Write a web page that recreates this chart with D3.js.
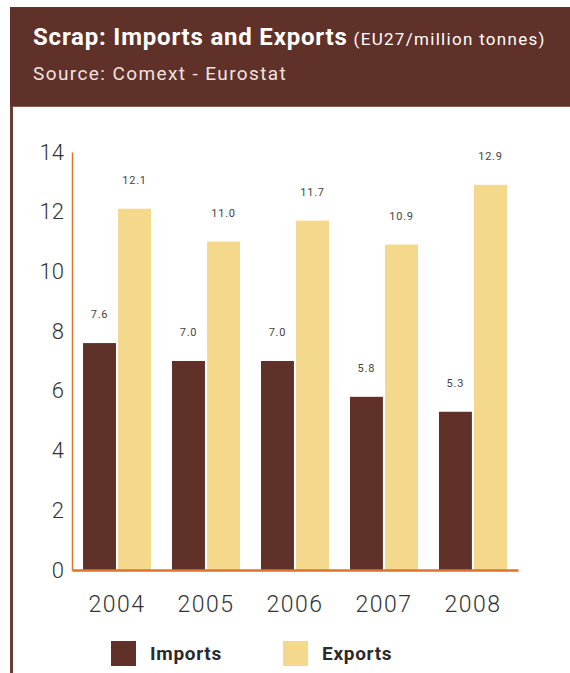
<!DOCTYPE html>
<html>
<head>
<meta charset="utf-8">
<script src="https://cdn.jsdelivr.net/npm/d3@7"></script>
<style>
  body { margin: 0; background: #fff; }
  svg { display: block; }
</style>
</head>
<body>
<div id="chart"></div>
<script>
// data
const years = ['2004', '2005', '2006', '2007', '2008'];
const imports = [7.6, 7.0, 7.0, 5.8, 5.3];
const exports = [12.1, 11.0, 11.7, 10.9, 12.9];
const seriesNames = ['Imports', 'Exports'];
const yTicks = [0, 2, 4, 6, 8, 10, 12, 14];

const colors = { Imports: '#5f3129', Exports: '#f4d88b' };
const brown = '#5f3129';
const orange = '#e0732a';

const width = 570;
const height = 673;

const svg = d3.select('#chart')
  .append('svg')
  .attr('width', width)
  .attr('height', height);

// header box
svg.append('rect')
  .attr('x', 10).attr('y', 7)
  .attr('width', width - 10).attr('height', 100)
  .attr('fill', brown);
svg.append('line')
  .attr('x1', 10).attr('x2', width)
  .attr('y1', 106.5).attr('y2', 106.5)
  .attr('stroke', '#8a5d54').attr('stroke-width', 1);

// left border line
svg.append('rect')
  .attr('x', 10).attr('y', 106)
  .attr('width', 3).attr('height', height - 106)
  .attr('fill', '#6a3c33');

const title = svg.append('text')
  .attr('x', 33).attr('y', 45)
  .attr('fill', '#fff')
  .style('font-family', 'Roboto, sans-serif');
title.append('tspan')
  .style('font-weight', 700)
  .style('font-size', '24px')
  .style('letter-spacing', '0.8px')
  .text('Scrap: Imports and Exports');
title.append('tspan')
  .style('font-size', '17px')
  .style('font-weight', 400)
  .style('letter-spacing', '1.3px')
  .attr('dx', 6)
  .text('(EU27/million tonnes)');

svg.append('text')
  .attr('x', 33).attr('y', 80)
  .attr('fill', '#efe4e0')
  .style('font-family', 'Roboto, sans-serif')
  .style('font-size', '19px')
  .style('font-weight', 400)
  .style('letter-spacing', '1.4px')
  .text('Source: Comext - Eurostat');

// scales
const x0 = d3.scaleBand()
  .domain(years)
  .range([72, 518])
  .paddingInner(0.236)
  .paddingOuter(0.124);

const x1 = d3.scaleBand()
  .domain(seriesNames)
  .range([0, x0.bandwidth()])
  .paddingInner(0.06);

const y = d3.scaleLinear()
  .domain([0, 14])
  .range([570, 152]);

const data = years.map((yr, i) => ({ year: yr, Imports: imports[i], Exports: exports[i] }));

// bars
const groups = svg.append('g')
  .selectAll('g')
  .data(data)
  .enter()
  .append('g')
  .attr('transform', (d) => `translate(${x0(d.year)},0)`);

groups.selectAll('rect')
  .data((d) => seriesNames.map((k) => ({ key: k, value: d[k] })))
  .enter()
  .append('rect')
  .attr('x', (d) => x1(d.key))
  .attr('y', (d) => y(d.value))
  .attr('width', x1.bandwidth())
  .attr('height', (d) => y(0) - y(d.value))
  .attr('fill', (d) => colors[d.key]);

groups.selectAll('text')
  .data((d) => seriesNames.map((k) => ({ key: k, value: d[k] })))
  .enter()
  .append('text')
  .attr('x', (d) => x1(d.key) + x1.bandwidth() / 2)
  .attr('y', (d) => y(d.value) - 25)
  .attr('text-anchor', 'middle')
  .attr('fill', '#444')
  .style('font-family', 'Roboto, sans-serif')
  .style('font-size', '11px')
  .style('letter-spacing', '0.8px')
  .text((d) => d.value.toFixed(1));

// y axis
const yAxis = svg.append('g')
  .attr('transform', 'translate(72,0)')
  .call(d3.axisLeft(y).tickValues(yTicks).tickSize(0).tickPadding(8));
yAxis.select('.domain')
  .attr('stroke', orange)
  .attr('stroke-width', 1.5);
yAxis.selectAll('text')
  .attr('fill', '#333')
  .style('font-family', 'Roboto, sans-serif')
  .style('font-weight', 300)
  .style('font-size', '22px');

// x axis
const xAxis = svg.append('g')
  .attr('transform', 'translate(0,570)')
  .call(d3.axisBottom(x0).tickSize(0).tickPadding(26));
xAxis.select('.domain')
  .attr('stroke', orange)
  .attr('stroke-width', 2.5);
xAxis.selectAll('text')
  .attr('fill', '#333')
  .style('font-family', 'Roboto, sans-serif')
  .style('font-weight', 300)
  .style('font-size', '23px')
  .style('letter-spacing', '1.5px');

// legend
const legendX = [111, 283];
const legend = svg.append('g')
  .selectAll('g')
  .data(seriesNames)
  .enter()
  .append('g')
  .attr('transform', (d, i) => `translate(${legendX[i]},641)`);
legend.append('rect')
  .attr('width', 25).attr('height', 25)
  .attr('fill', (d) => colors[d]);
legend.append('text')
  .attr('x', 39).attr('y', 19)
  .attr('fill', '#2a2a2a')
  .style('font-family', 'Roboto, sans-serif')
  .style('font-weight', 700)
  .style('font-size', '19px')
  .style('letter-spacing', '0.7px')
  .text((d) => d);
</script>
</body>
</html>
